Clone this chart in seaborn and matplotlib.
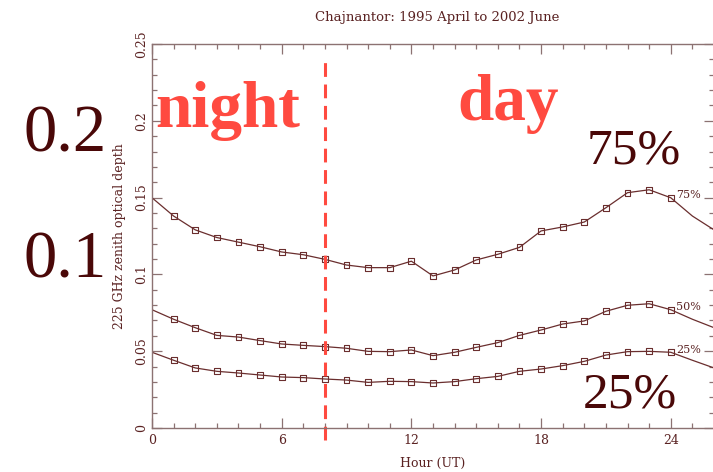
import matplotlib
matplotlib.use("Agg")
import matplotlib.pyplot as plt
from matplotlib.ticker import MultipleLocator
import numpy as np
import pandas as pd
import seaborn as sns

# Hourly percentiles of 225 GHz zenith opacity (hours 1..24 UT)
hours = list(range(1, 25))
tau_75 = [0.1380, 0.1290, 0.1240, 0.1210, 0.1180, 0.1146, 0.1128, 0.1098,
          0.1061, 0.1044, 0.1044, 0.1086, 0.0990, 0.1029, 0.1094, 0.1131,
          0.1176, 0.1283, 0.1309, 0.1341, 0.1434, 0.1532, 0.1551, 0.1499]
tau_50 = [0.0708, 0.0653, 0.0603, 0.0592, 0.0569, 0.0547, 0.0538, 0.0530,
          0.0519, 0.0499, 0.0497, 0.0508, 0.0471, 0.0493, 0.0525, 0.0556,
          0.0603, 0.0638, 0.0677, 0.0697, 0.0760, 0.0799, 0.0809, 0.0770]
tau_25 = [0.0441, 0.0391, 0.0369, 0.0358, 0.0345, 0.0332, 0.0328, 0.0319,
          0.0312, 0.0297, 0.0304, 0.0302, 0.0293, 0.0302, 0.0321, 0.0336,
          0.0369, 0.0384, 0.0406, 0.0434, 0.0475, 0.0497, 0.0499, 0.0493]
series_names = ["75%", "50%", "25%"]
x_ticks = [0, 6, 12, 18, 24]
y_ticks = [0, 0.05, 0.1, 0.15, 0.2, 0.25]
y_tick_labels = ["0", "0.05", "0.1", "0.15", "0.2", "0.25"]
night_day_boundary = 8

W, H = 713, 472
sns.set_style("ticks")
plt.rcParams["font.family"] = ["DejaVu Serif"]

LINE = "#6a2e2e"
SPINE = "#8c7272"
TXT = "#5a2222"
BIG = "#4a0808"
RED = "#ff4a40"

# Daily cycle is periodic: wrap the series so the curve runs 0..26 h
def wrapped(vals):
    return [vals[-1]] + list(vals) + [vals[0], vals[1]]

line_hours = [0] + hours + [25, 26]
rows_line, rows_pts = [], []
for name, vals in zip(series_names, [tau_75, tau_50, tau_25]):
    for h, v in zip(line_hours, wrapped(vals)):
        rows_line.append({"hour": h, "tau": v, "pct": name})
    for h, v in zip(hours, vals):
        rows_pts.append({"hour": h, "tau": v, "pct": name})
df_line = pd.DataFrame(rows_line)
df_pts = pd.DataFrame(rows_pts)

fig = plt.figure(figsize=(W / 100, H / 100), dpi=100)
ax = fig.add_axes([152 / W, 44 / H, (714 - 152) / W, 384 / H])

palette = {n: LINE for n in series_names}
sns.lineplot(data=df_line, x="hour", y="tau", hue="pct", palette=palette,
             linewidth=0.9, legend=False, ax=ax, sort=True)
sns.scatterplot(data=df_pts, x="hour", y="tau", hue="pct", palette=palette,
                marker="s", s=18, facecolor="none", edgecolor=LINE,
                linewidth=0.8, legend=False, ax=ax)
for c in ax.collections:
    c.set_facecolor("none")
    c.set_edgecolor(LINE)

ax.set_xlim(0, 26)
ax.set_ylim(0, 0.25)
ax.set_xticks(x_ticks)
ax.set_xticklabels([str(t) for t in x_ticks])
ax.set_yticks(y_ticks)
ax.set_yticklabels(y_tick_labels, rotation=90, va="center")
ax.xaxis.set_minor_locator(MultipleLocator(1))
ax.yaxis.set_minor_locator(MultipleLocator(0.01))
ax.tick_params(which="both", direction="in", top=True, right=True,
               color=SPINE, width=0.9, labelcolor=TXT, labelsize=9)
ax.tick_params(which="major", length=7)
ax.tick_params(which="minor", length=3.5)
ax.tick_params(axis="x", pad=4)
ax.tick_params(axis="y", pad=3)
for s in ax.spines.values():
    s.set_color(SPINE)
    s.set_linewidth(1.0)
ax.set_xlabel("")
ax.set_ylabel("")

# Series labels beside the last hour
for name, vals in zip(series_names, [tau_75, tau_50, tau_25]):
    ax.text(24.25, vals[-1] + 0.0015, name, fontsize=8, color=TXT,
            ha="left", va="center")

# Night/day boundary
ax.plot([night_day_boundary, night_day_boundary], [-0.008, 0.243],
        color=RED, linewidth=2.2, linestyle=(0, (4.5, 2.5)), clip_on=False)

def px(x, y):
    return x / W, 1 - y / H

fig.text(*px(437, 17), "Chajnantor: 1995 April to 2002 June", ha="center",
         va="center", fontsize=9.5, color=TXT)
fig.text(*px(433, 463), "Hour (UT)", ha="center", va="center",
         fontsize=9, color=TXT)
fig.text(*px(120, 236), "225 GHz zenith optical depth", ha="center",
         va="center", rotation=90, fontsize=9, color=TXT)

serif = ["Liberation Serif"]
fig.text(*px(23, 152), "0.2", family=serif, fontsize=48, color=BIG,
         ha="left", va="baseline")
fig.text(*px(23, 278), "0.1", family=serif, fontsize=48, color=BIG,
         ha="left", va="baseline")
fig.text(*px(155, 127), "night", family=serif, fontsize=47, weight="bold",
         color=RED, ha="left", va="baseline")
fig.text(*px(457, 120), "day", family=serif, fontsize=47, weight="bold",
         color=RED, ha="left", va="baseline")
fig.text(*px(587, 163), "75%", family=serif, fontsize=37, color=BIG,
         ha="left", va="baseline")
fig.text(*px(583, 407), "25%", family=serif, fontsize=37, color=BIG,
         ha="left", va="baseline")

fig.savefig("out.png", dpi=100)
